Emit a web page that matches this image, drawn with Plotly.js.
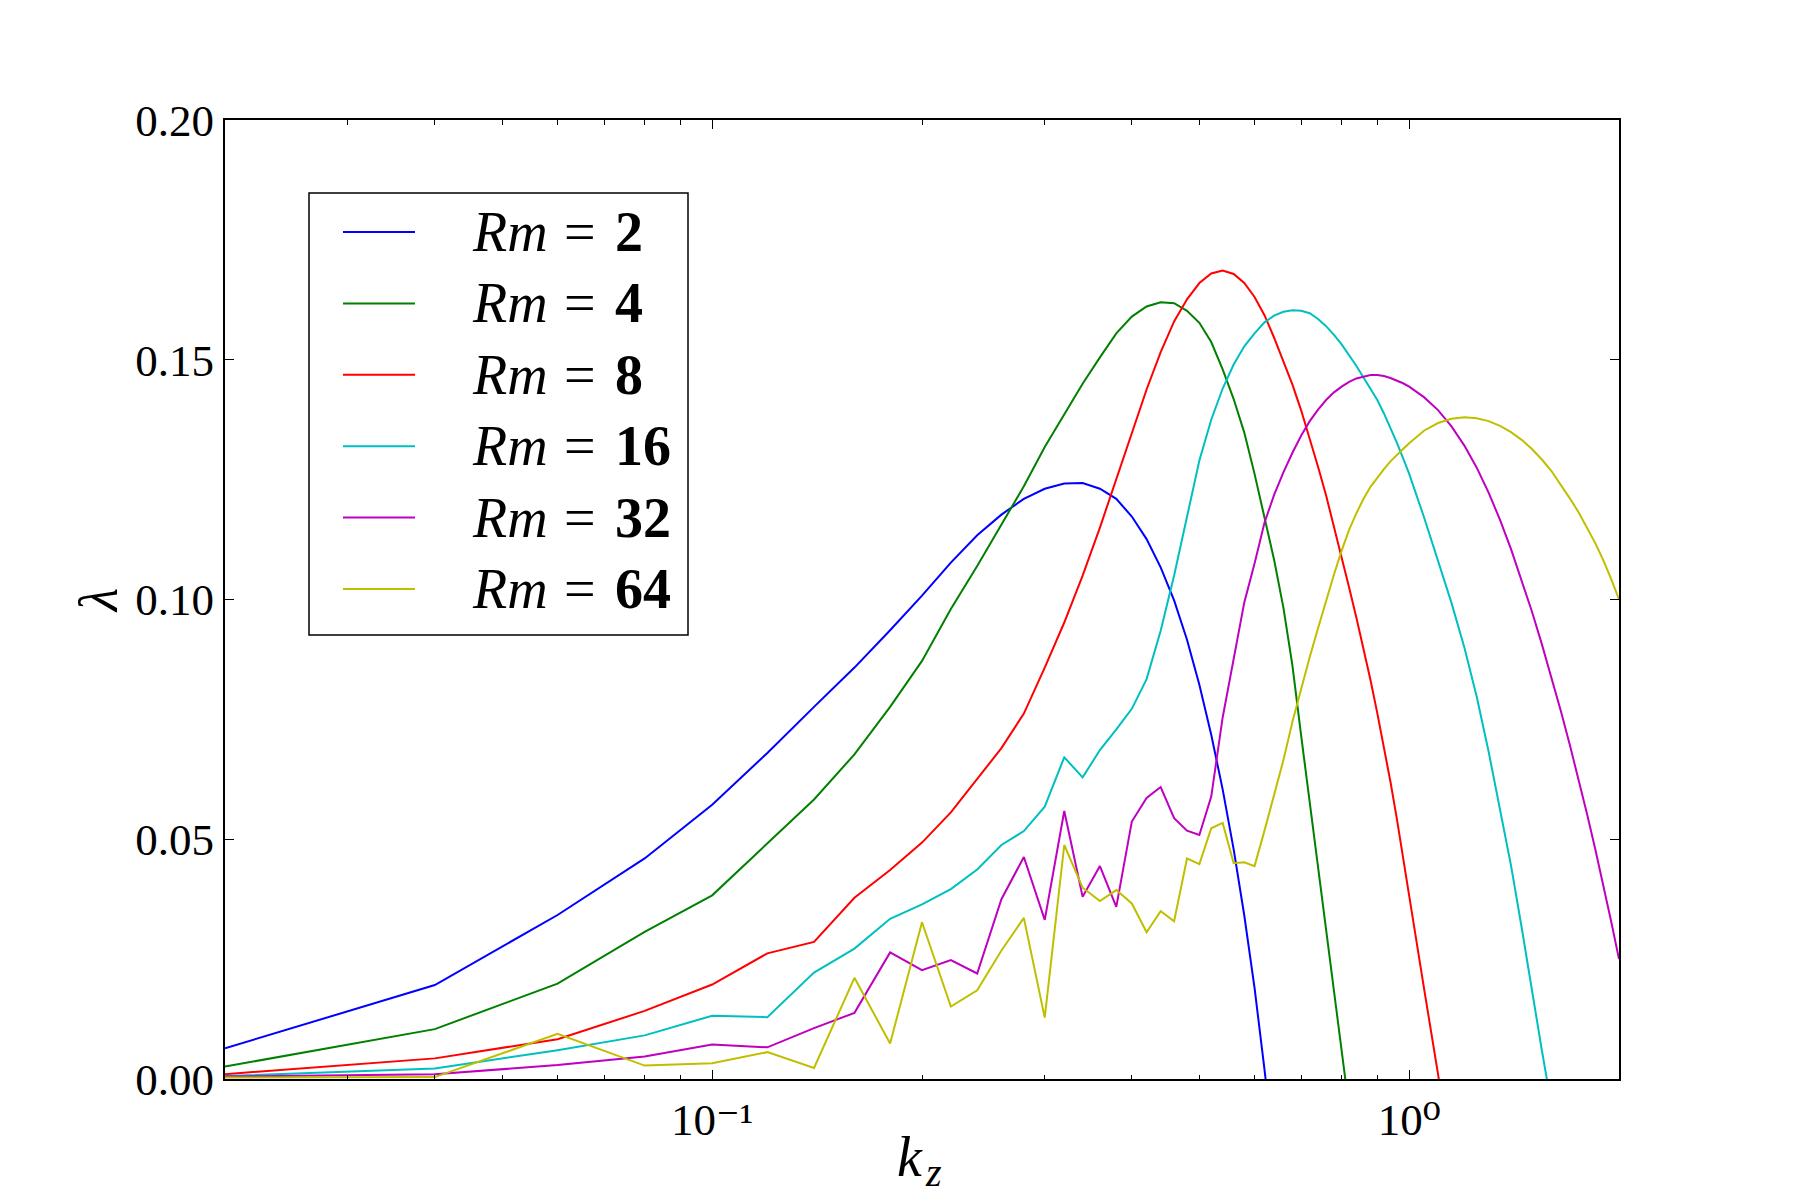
<!DOCTYPE html>
<html>
<head>
<meta charset="utf-8">
<script src="https://cdn.plot.ly/plotly-3.0.1.min.js"></script>
<style>html,body{margin:0;padding:0;background:#fff;}</style>
</head>
<body>
<div id="chart" style="width:1800px;height:1200px;"></div>
<script>
// wavenumber k_z (0.02 steps to 1.0, then 0.05 steps to 2.0)
const kz = [0.02,0.04,0.06,0.08,0.10,0.12,0.14,0.16,0.18,0.20,
            0.22,0.24,0.26,0.28,0.30,0.32,0.34,0.36,0.38,0.40,
            0.42,0.44,0.46,0.48,0.50,0.52,0.54,0.56,0.58,0.60,
            0.62,0.64,0.66,0.68,0.70,0.72,0.74,0.76,0.78,0.80,
            0.82,0.84,0.86,0.88,0.90,0.92,0.94,0.96,0.98,1.00,
            1.05,1.10,1.15,1.20,1.25,1.30,1.35,1.40,1.45,1.50,
            1.55,1.60,1.65,1.70,1.75,1.80,1.85,1.90,1.95,2.00];

const rmValues = ["2","4","8","16","32","64"];

// growth rate lambda for each Rm
const lamRm2 = [0.0064,0.0196,0.0342,0.0460,0.0572,0.0680,0.0776,0.0858,0.0936,0.1008,
                0.1077,0.1134,0.1177,0.1210,0.1231,0.1242,0.1243,0.1231,0.1210,0.1173,
                0.1126,0.1067,0.0998,0.0916,0.0822,0.0718,0.0604,0.0479,0.0341,0.0190,
                0.0020,-0.0155];
const lamRm4 = [0.0026,0.0104,0.0199,0.0307,0.0383,0.0491,0.0583,0.0677,0.0776,0.0872,
                0.0980,0.1070,0.1156,0.1236,0.1318,0.1385,0.1450,0.1505,0.1555,0.1590,
                0.1611,0.1620,0.1618,0.1602,0.1577,0.1537,0.1480,0.1418,0.1348,0.1262,
                0.1168,0.1083,0.0983,0.0862,0.0715,0.0578,0.0442,0.0310,0.0180,0.0060,
                -0.0062];
const lamRm8 = [0.0010,0.0043,0.0083,0.0142,0.0197,0.0262,0.0286,0.0378,0.0436,0.0493,
                0.0556,0.0627,0.0690,0.0762,0.0858,0.0952,0.1050,0.1150,0.1252,0.1348,
                0.1438,0.1516,0.1580,0.1626,0.1660,0.1680,0.1686,0.1679,0.1660,0.1631,
                0.1593,0.1546,0.1497,0.1448,0.1394,0.1336,0.1277,0.1217,0.1153,0.1090,
                0.1025,0.0962,0.0898,0.0832,0.0763,0.0692,0.0620,0.0543,0.0460,0.0378,
                0.0190,0.0010,-0.0170];
const lamRm16 = [0.0006,0.0022,0.0060,0.0091,0.0132,0.0129,0.0222,0.0272,0.0334,0.0364,
                 0.0396,0.0437,0.0488,0.0517,0.0568,0.0671,0.0629,0.0686,0.0729,0.0772,
                 0.0834,0.0935,0.1050,0.1175,0.1290,0.1375,0.1440,0.1490,0.1528,0.1555,
                 0.1578,0.1592,0.1600,0.1603,0.1602,0.1597,0.1585,0.1570,0.1552,0.1532,
                 0.1510,0.1487,0.1463,0.1440,0.1416,0.1388,0.1358,0.1327,0.1295,0.1262,
                 0.1172,0.1082,0.0993,0.0900,0.0797,0.0683,0.0565,0.0445,0.0316,0.0183,
                 0.0060,-0.0055];
const lamRm32 = [0.0005,0.0010,0.0029,0.0047,0.0072,0.0066,0.0106,0.0138,0.0264,0.0227,
                 0.0248,0.0220,0.0375,0.0463,0.0332,0.0559,0.0380,0.0444,0.0359,0.0537,
                 0.0586,0.0609,0.0544,0.0518,0.0509,0.0589,0.0754,0.0880,0.0994,0.1075,
                 0.1160,0.1218,0.1265,0.1306,0.1342,0.1372,0.1396,0.1416,0.1432,0.1444,
                 0.1454,0.1461,0.1465,0.1468,0.1468,0.1466,0.1462,0.1457,0.1451,0.1444,
                 0.1422,0.1395,0.1361,0.1321,0.1275,0.1223,0.1166,0.1105,0.1041,0.0975,
                 0.0907,0.0838,0.0768,0.0697,0.0625,0.0552,0.0478,0.0403,0.0327,0.0250];
const lamRm64 = [0.0003,0.0004,0.0094,0.0028,0.0033,0.0056,0.0023,0.0211,0.0074,0.0327,
                 0.0151,0.0185,0.0268,0.0336,0.0128,0.0488,0.0399,0.0371,0.0394,0.0366,
                 0.0306,0.0350,0.0329,0.0460,0.0448,0.0523,0.0534,0.0450,0.0452,0.0444,
                 0.0518,0.0590,0.0665,0.0745,0.0815,0.0880,0.0940,0.0998,0.1052,0.1102,
                 0.1145,0.1180,0.1210,0.1235,0.1255,0.1272,0.1288,0.1302,0.1314,0.1326,
                 0.1352,0.1368,0.1377,0.1380,0.1378,0.1372,0.1362,0.1349,0.1333,0.1314,
                 0.1292,0.1268,0.1240,0.1211,0.1182,0.1150,0.1117,0.1081,0.1042,0.1000];

const yTickVals = [0, 0.05, 0.10, 0.15, 0.20];
const yTickText = ["0.00", "0.05", "0.10", "0.15", "0.20"];
const xTickVals = [0.1, 1];
const xTickText = ["10\u207B\u00B9", "10\u2070"];
const xMinorVals = [0.02,0.03,0.04,0.05,0.06,0.07,0.08,0.09,0.2,0.3,0.4,0.5,0.6,0.7,0.8,0.9,2];

const colors = ["#0000ff", "#008000", "#ff0000", "#00bfbf", "#bf00bf", "#bfbf00"];
const series = [lamRm2, lamRm4, lamRm8, lamRm16, lamRm32, lamRm64];
const names = rmValues.map(v => "Rm = " + v);

const FONT = "Liberation Serif, DejaVu Serif, serif";

const traces = series.map((ys, i) => ({
  type: "scatter",
  mode: "lines",
  x: kz.slice(0, ys.length),
  y: ys,
  name: names[i],
  line: { color: colors[i], width: 2 },
  hoverinfo: "skip",
  showlegend: false
}));

// plot-area pixel frame, used to place the hand-built legend box and x label
const FRAME = { left: 225, right: 1619, top: 120, bottom: 1079 };
const px = x => (x - FRAME.left) / (FRAME.right - FRAME.left);
const py = y => (FRAME.bottom - y) / (FRAME.bottom - FRAME.top);
const LEG = { x0: 309, y0: 193, x1: 688, y1: 635, lineX0: 343, lineX1: 415,
              rmX: 470, eqX: 562, numX: 613, row0: 232, rowStep: 71.4, fontSize: 56 };

const shapes = [{
  type: "rect", xref: "paper", yref: "paper", layer: "above",
  x0: px(LEG.x0), x1: px(LEG.x1), y0: py(LEG.y1), y1: py(LEG.y0),
  line: { color: "#000000", width: 1.5 }, fillcolor: "#ffffff"
}];
const annotations = [];
rmValues.forEach((v, i) => {
  const yy = py(LEG.row0 + i * LEG.rowStep);
  shapes.push({
    type: "line", xref: "paper", yref: "paper", layer: "above",
    x0: px(LEG.lineX0), x1: px(LEG.lineX1), y0: yy, y1: yy,
    line: { color: colors[i], width: 2 }
  });
  const base = { xref: "paper", yref: "paper", y: yy, xanchor: "left", yanchor: "middle", showarrow: false };
  annotations.push(Object.assign({}, base, {
    x: px(LEG.rmX), text: "Rm",
    font: { family: FONT, size: LEG.fontSize, color: "#000000", style: "italic" }
  }));
  annotations.push(Object.assign({}, base, {
    x: px(LEG.eqX), text: "=",
    font: { family: FONT, size: LEG.fontSize, color: "#000000" }
  }));
  annotations.push(Object.assign({}, base, {
    x: px(LEG.numX), text: v,
    font: { family: FONT, size: LEG.fontSize, color: "#000000", weight: "bold" }
  }));
});

// x-axis label k_z (k with a lowered, smaller z)
const XLAB = { kRight: 925, kMid: 1157, zLeft: 923, zMid: 1172 };
annotations.push({
  xref: "paper", yref: "paper", x: px(XLAB.kRight), y: py(XLAB.kMid),
  xanchor: "right", yanchor: "middle", showarrow: false, text: "k",
  font: { family: FONT, size: 56, color: "#000000", style: "italic" }
});
annotations.push({
  xref: "paper", yref: "paper", x: px(XLAB.zLeft), y: py(XLAB.zMid),
  xanchor: "left", yanchor: "middle", showarrow: false, text: "z",
  font: { family: FONT, size: 40, color: "#000000", style: "italic" }
});

const layout = {
  width: 1800,
  height: 1200,
  margin: { l: 225, r: 181, t: 120, b: 121, pad: 0 },
  paper_bgcolor: "#ffffff",
  plot_bgcolor: "#ffffff",
  font: { family: FONT, color: "#000000", size: 45 },
  showlegend: false,
  shapes: shapes,
  annotations: annotations,
  xaxis: {
    type: "log",
    range: [Math.log10(0.02), Math.log10(2)],
    tickmode: "array",
    tickvals: xTickVals,
    ticktext: xTickText,
    ticks: "inside", ticklen: 9, tickwidth: 1, tickcolor: "#000000",
    minor: { ticks: "inside", ticklen: 4.5, tickwidth: 1, tickcolor: "#000000",
             tickmode: "array", tickvals: xMinorVals, showgrid: false },
    showline: true, linecolor: "#000000", linewidth: 2, mirror: "allticks",
    showgrid: false, zeroline: false,
    tickfont: { family: FONT, size: 45, color: "#000000" },
    automargin: false
  },
  yaxis: {
    range: [0, 0.2],
    tickmode: "array",
    tickvals: yTickVals,
    ticktext: yTickText,
    ticks: "inside", ticklen: 9, tickwidth: 1, tickcolor: "#000000",
    showline: true, linecolor: "#000000", linewidth: 2, mirror: "allticks",
    showgrid: false, zeroline: false,
    tickfont: { family: FONT, size: 45, color: "#000000" },
    title: { text: "\u03bb", font: { family: FONT, size: 54, style: "italic" }, standoff: 0 },
    automargin: false
  }
};

Plotly.newPlot("chart", traces, layout, { staticPlot: true, displayModeBar: false });
</script>
</body>
</html>
